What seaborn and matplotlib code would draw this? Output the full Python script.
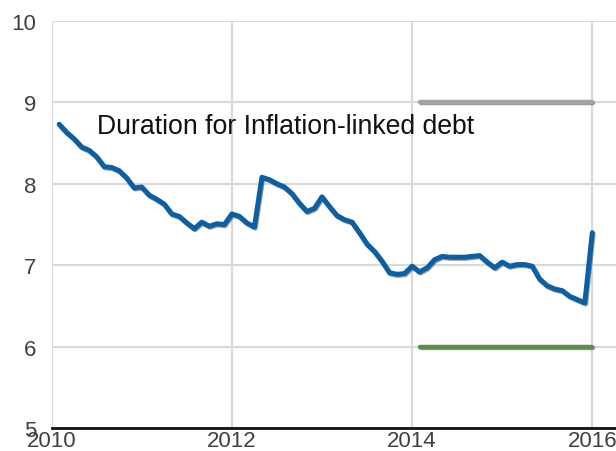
import matplotlib
matplotlib.use("Agg")
import matplotlib.pyplot as plt
import matplotlib.patheffects as pe
import numpy as np
import pandas as pd
import seaborn as sns

# Duration for inflation-linked debt, monthly, Jan 2010 - Dec 2015 (years as decimals)
months = 2010 + np.arange(1, 73) / 12.0
duration = [
    8.73, 8.63, 8.55, 8.45, 8.41, 8.33, 8.21, 8.20, 8.16, 8.07, 7.95, 7.96,
    7.86, 7.81, 7.75, 7.63, 7.60, 7.52, 7.45, 7.53, 7.48, 7.51, 7.50, 7.63,
    7.60, 7.52, 7.47, 8.08, 8.05, 8.00, 7.96, 7.88, 7.76, 7.66, 7.70, 7.84,
    7.72, 7.61, 7.56, 7.53, 7.40, 7.26, 7.17, 7.05, 6.91, 6.89, 6.90, 6.99,
    6.92, 6.97, 7.07, 7.11, 7.10, 7.10, 7.10, 7.11, 7.12, 7.04, 6.97, 7.04,
    6.99, 7.01, 7.01, 6.99, 6.83, 6.75, 6.71, 6.69, 6.62, 6.58, 6.54, 7.40,
]

# target band (upper / lower), from early 2014 onward
band_x = [2014.09, 2016.0]
band_upper = [9, 9]
band_lower = [6, 6]

x_ticks = [2010, 2012, 2014, 2016]
x_tick_labels = ["2010", "2012", "2014", "2016"]
y_ticks = [5, 6, 7, 8, 9, 10]

df = pd.DataFrame({"date": months, "duration": duration})

sns.set_style("white")
plt.rcParams["font.family"] = ["Liberation Sans", "DejaVu Sans"]

fig = plt.figure(figsize=(6.16, 4.52), dpi=100)
ax = fig.add_axes([0.0839, 0.0498, 0.9161, 0.9022])

shadow = [pe.SimpleLineShadow(offset=(0.6, -0.8), shadow_color="#555555", alpha=0.6), pe.Normal()]

sns.lineplot(x=band_x, y=band_upper, ax=ax, color="#a3a3a3", linewidth=3.2,
             path_effects=shadow, zorder=3)
sns.lineplot(x=band_x, y=band_lower, ax=ax, color="#5e8c4a", linewidth=3.2,
             path_effects=shadow, zorder=3)
sns.lineplot(data=df, x="date", y="duration", ax=ax, color="#0b5fa5", linewidth=3.6,
             path_effects=shadow, zorder=4)

ax.text(2010.50, 8.71, "Duration for Inflation-linked debt", fontsize=19.2,
        color="#111111", va="center", ha="left")

ax.set_xlim(2010, 2016.263)
ax.set_ylim(5, 10)
ax.set_xticks(x_ticks)
ax.set_xticklabels(x_tick_labels)
ax.set_yticks(y_ticks)
ax.grid(True, color="#d9d9d9", linewidth=1.5)
ax.set_axisbelow(True)
ax.set_xlabel("")
ax.set_ylabel("")

for side in ["left", "right", "top"]:
    ax.spines[side].set_visible(False)
ax.spines["bottom"].set_color("#111111")
ax.spines["bottom"].set_linewidth(2)
ax.spines["bottom"].set_zorder(5)

ax.tick_params(axis="y", length=0, pad=11, labelsize=16, labelcolor="#404040")
ax.tick_params(axis="x", length=0, pad=1, labelsize=16, labelcolor="#404040")

fig.savefig("out.png", dpi=100)
